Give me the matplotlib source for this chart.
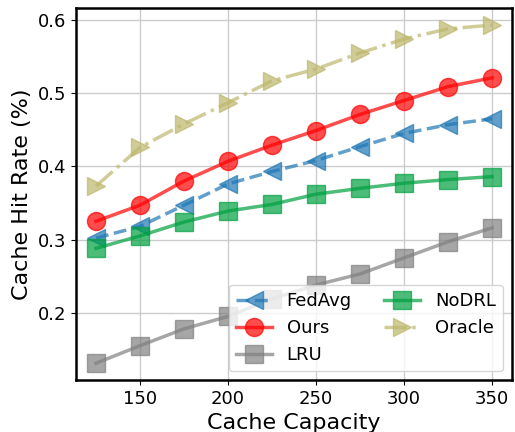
import matplotlib
matplotlib.use('Agg')
import matplotlib.pyplot as plt

capacity = [125, 150, 175, 200, 225, 250, 275, 300, 325, 350]
fedavg = [0.302, 0.318, 0.347, 0.376, 0.393, 0.408, 0.427, 0.445, 0.457, 0.465]
ours = [0.325, 0.347, 0.380, 0.407, 0.429, 0.449, 0.471, 0.490, 0.509, 0.521]
lru = [0.131, 0.155, 0.178, 0.195, 0.219, 0.238, 0.253, 0.275, 0.297, 0.316]
nodrl = [0.288, 0.305, 0.324, 0.339, 0.348, 0.362, 0.370, 0.377, 0.382, 0.386]
oracle = [0.373, 0.426, 0.458, 0.487, 0.517, 0.533, 0.555, 0.574, 0.588, 0.593]

fig = plt.figure(figsize=(5.15, 4.32), dpi=100)
ax = fig.add_axes([0.148, 0.12, 0.846, 0.861])

kw = dict(linewidth=2.5, markersize=13, alpha=0.7)
ax.plot(capacity, fedavg, '--', marker='<', color='tab:blue', label='FedAvg', **kw)
ax.plot(capacity, ours, '-', marker='o', color='red', label='Ours', **kw)
ax.plot(capacity, lru, '-', marker='s', color='gray', label='LRU', **kw)
ax.plot(capacity, nodrl, '-', marker='s', color='#00a040', label='NoDRL', **kw)
ax.plot(capacity, oracle, '-.', marker='>', color='darkkhaki', label='Oracle', **kw)

ax.set_xlabel('Cache Capacity', fontsize=16)
ax.set_ylabel('Cache Hit Rate (%)', fontsize=16)
ax.set_xticks([150, 200, 250, 300, 350])
ax.set_yticks([0.2, 0.3, 0.4, 0.5, 0.6])
ax.tick_params(labelsize=13)
ax.grid(True, color='#cccccc', linewidth=1)
for s in ax.spines.values():
    s.set_linewidth(1.8)
    s.set_color('black')

ax.legend(loc='lower right', ncol=2, fontsize=13, handlelength=2.0,
          columnspacing=1.8, labelspacing=0.5)

fig.savefig('out.png', dpi=100)
